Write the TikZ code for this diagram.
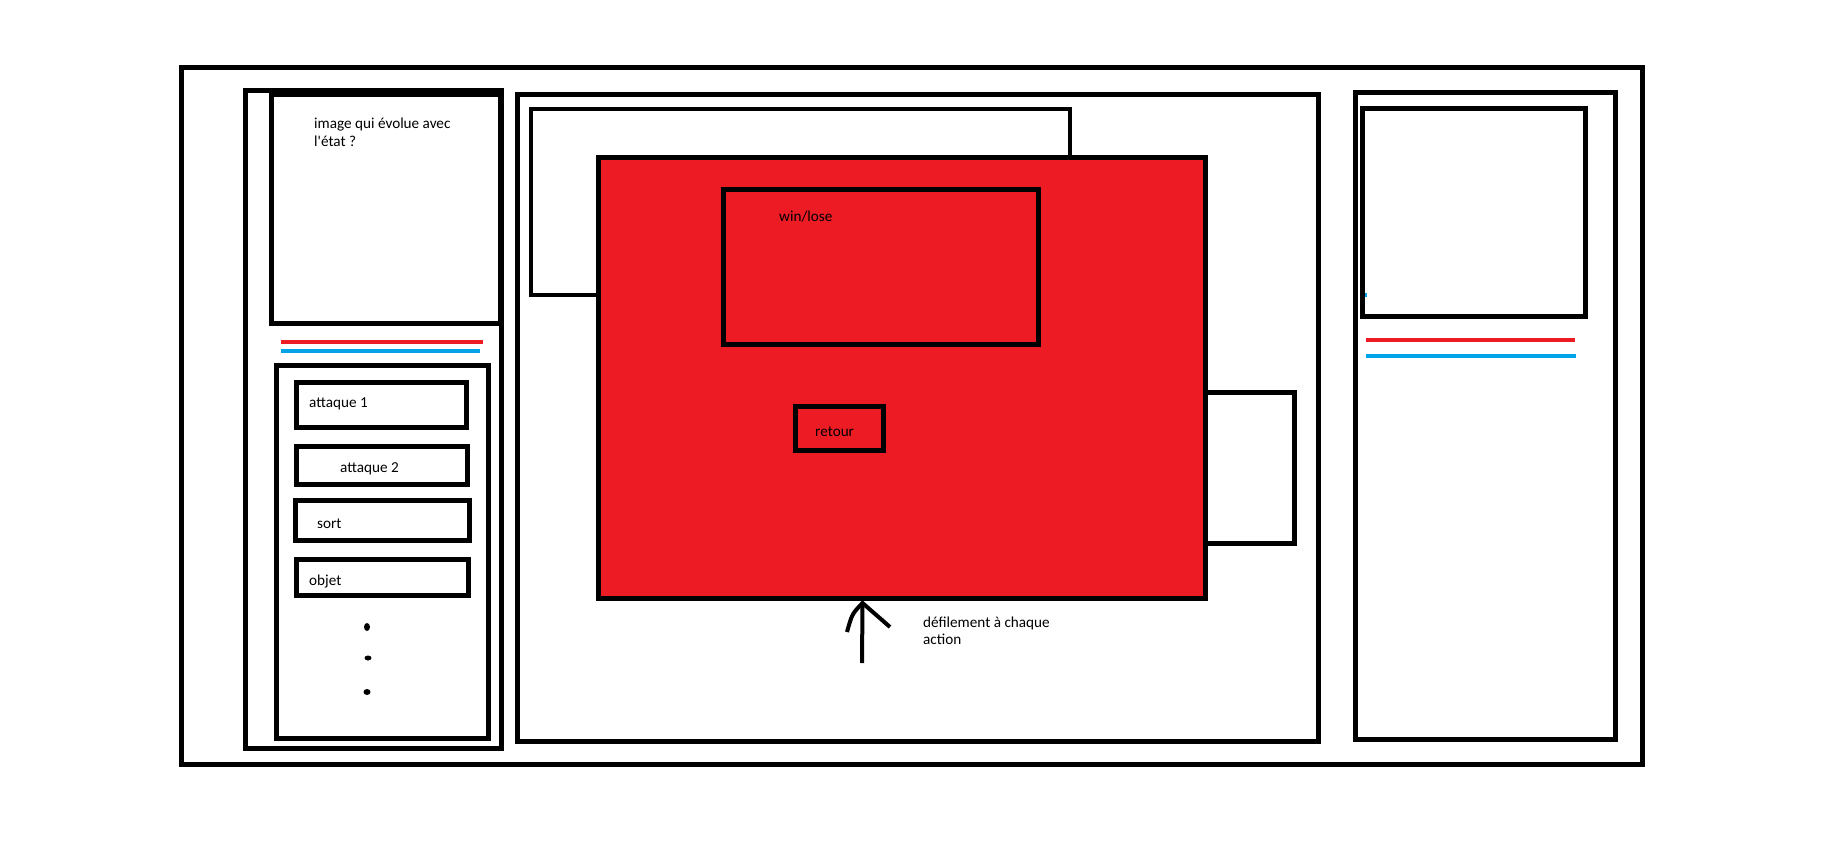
\documentclass[tikz,border=0pt]{standalone}
\usepackage{fontspec}
\setmainfont{Carlito}
\usetikzlibrary{positioning}
\definecolor{paintred}{HTML}{ED1C24}
\definecolor{paintblue}{HTML}{00A2E8}

\begin{document}
\begin{tikzpicture}[x=1pt,y=-1pt,
    box/.style={draw=black,line width=5pt},
    thinbox/.style={draw=black,line width=4pt},
    label/.style={anchor=base west,inner sep=0pt,font=\fontsize{15.2}{18}\selectfont},
    bar/.style={line width=4.5pt}]
    \useasboundingbox (0,0) rectangle (1839,849);

    % outer frame
    \draw[box] (181.5,67.5) rectangle (1642.5,764.5);

    % left panel
    \begin{scope}
        \draw[box] (245.5,90.5) rectangle (501,748.5);
        \draw[box] (271.5,94.5) rectangle (500,323.5);
        \node[label] (imgtxt) at (314,128) {image qui évolue avec};
        \node[label] (imgtxt2) at (314,146) {l\textquotesingle état ?};

        \draw[bar,paintred] (281,342) -- (483,342);
        \draw[bar,paintblue] (281,351) -- (480,351);

        % actions
        \draw[box] (276.5,365) rectangle (488.5,738.5);
        \draw[box] (296.5,382.5) rectangle (466.5,427.5);
        \node[label] (atk1) at (309,407) {attaque 1};
        \draw[box] (296.5,446.5) rectangle (467.5,484.5);
        \node[label] (atk2) at (340,472) {attaque 2};
        \draw[box] (295.5,500.5) rectangle (469.5,540.5);
        \node[label] (spell) at (317,528) {sort};
        \draw[box] (296.5,559.5) rectangle (468.5,595.5);
        \node[label] (item) at (309,585) {objet};

        \fill (367,627) ellipse (3pt and 4pt);
        \fill (368,658) ellipse (3.5pt and 2.5pt);
        \fill (367,692) ellipse (3.5pt and 3pt);
    \end{scope}

    % middle panel
    \begin{scope}
        \draw[box] (517.5,94) rectangle (1318.5,741.5);
        \draw[thinbox,fill=white] (531,108.5) rectangle (1070,295);
        \draw[box] (1205.5,392.5) rectangle (1294,543.5);
        \draw[box,fill=paintred] (598.5,157.5) rectangle (1205.5,598.5);

        \draw[box] (723,189.5) rectangle (1038.5,344.5);
        \node[label] (result) at (779,221) {win/lose};
        \draw[box] (795.5,406.5) rectangle (883.5,450.5);
        \node[label] (back) at (815,436) {retour};

        % scrolling arrow
        \coordinate (tail) at (862,663);
        \coordinate (tip) at (862.5,603);
        \draw[line width=4pt] (tail) -- (tip);
        \draw[line width=4pt] (847,632) .. controls (852,614) .. (tip) -- (890,627);
        \node[label] (scroll) at (923,627) {défilement à chaque};
        \node[label] (scroll2) at (923,644) {action};
    \end{scope}

    % right panel
    \begin{scope}
        \draw[box] (1355.5,92.5) rectangle (1615.5,739.5);
        \draw[box] (1362.5,108.5) rectangle (1585.5,316.5);
        \fill[paintblue] (1365,293) rectangle (1367,297);
        \draw[bar,paintred] (1366,340) -- (1575,340);
        \draw[bar,paintblue] (1366,356) -- (1576,356);
    \end{scope}
\end{tikzpicture}
\end{document}
